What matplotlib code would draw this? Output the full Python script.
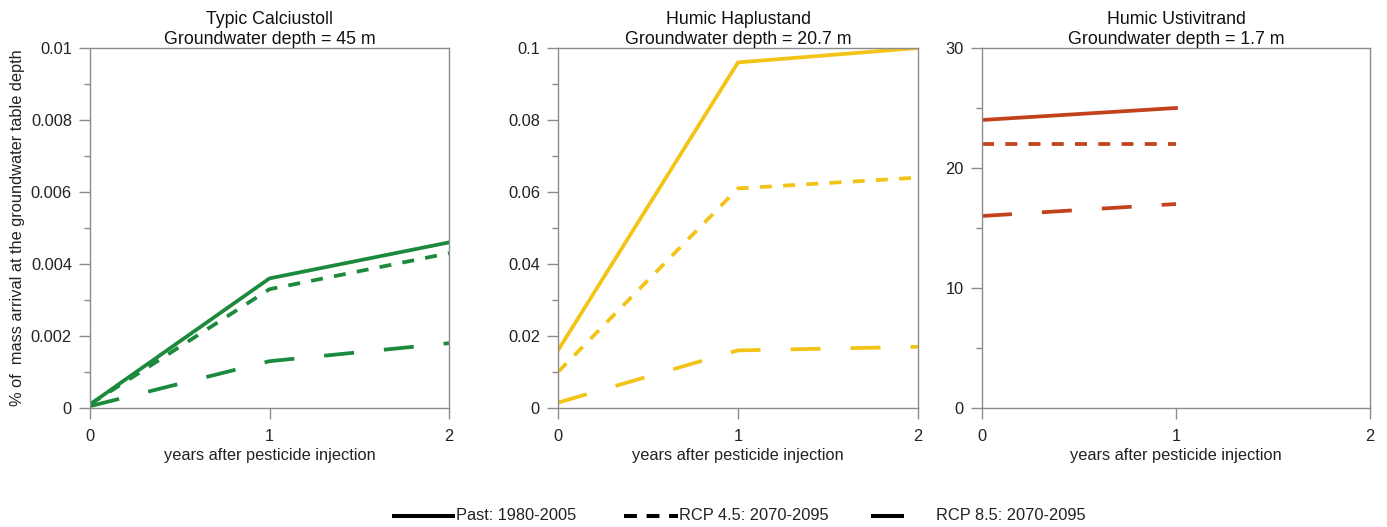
import matplotlib
matplotlib.use("Agg")
import matplotlib.pyplot as plt
from matplotlib.lines import Line2D
from matplotlib.ticker import MultipleLocator

plt.rcParams['font.family'] = ['Liberation Sans', 'DejaVu Sans']

years = [0, 1, 2]
years3 = [0, 1]

titles = ["Typic Calciustoll\nGroundwater depth = 45 m",
          "Humic Haplustand\nGroundwater depth = 20.7 m",
          "Humic Ustivitrand\nGroundwater depth = 1.7 m"]

calc_past = [0.0001, 0.0036, 0.0046]
calc_rcp45 = [0.0001, 0.0033, 0.0043]
calc_rcp85 = [0.00005, 0.0013, 0.0018]

hap_past = [0.016, 0.096, 0.100]
hap_rcp45 = [0.010, 0.061, 0.064]
hap_rcp85 = [0.0015, 0.016, 0.017]

ust_past = [24, 25]
ust_rcp45 = [22, 22]
ust_rcp85 = [16, 17]

colors = ["#1b8a3c", "#f2c417", "#c2421c"]
legend_labels = ["Past: 1980-2005", "RCP 4.5: 2070-2095", "RCP 8.5: 2070-2095"]

dash45 = (0, (3.2, 3.0))
dash85 = (0, (8, 8))

W, H = 1387, 527
fig = plt.figure(figsize=(W / 100, H / 100), dpi=100)

def ax_at(x0, x1, y0=48, y1=408):
    return fig.add_axes([x0 / W, 1 - y1 / H, (x1 - x0) / W, (y1 - y0) / H])

ax1 = ax_at(90, 449)
ax2 = ax_at(558, 918)
ax3 = ax_at(982, 1370)

lw = 2.7
ax1.plot(years, calc_past, color=colors[0], lw=lw, ls='-')
ax1.plot(years, calc_rcp45, color=colors[0], lw=lw, ls=dash45)
ax1.plot(years, calc_rcp85, color=colors[0], lw=lw, ls=dash85)
ax2.plot(years, hap_past, color=colors[1], lw=lw, ls='-')
ax2.plot(years, hap_rcp45, color=colors[1], lw=lw, ls=dash45)
ax2.plot(years, hap_rcp85, color=colors[1], lw=lw, ls=dash85)
ax3.plot(years3, ust_past, color=colors[2], lw=lw, ls='-')
ax3.plot(years3, ust_rcp45, color=colors[2], lw=lw, ls=dash45)
ax3.plot(years3, ust_rcp85, color=colors[2], lw=lw, ls=dash85)

ylims = [(0, 0.01), (0, 0.1), (0, 30)]
majors = [0.002, 0.02, 10]
minors = [0.001, 0.01, 5]

for ax, title, yl, mj, mn in zip([ax1, ax2, ax3], titles, ylims, majors, minors):
    ax.set_xlim(0, 2)
    ax.set_ylim(*yl)
    ax.set_xticks([0, 1, 2])
    ax.yaxis.set_major_locator(MultipleLocator(mj))
    ax.yaxis.set_minor_locator(MultipleLocator(mn))
    ax.yaxis.set_major_formatter(plt.FuncFormatter(lambda v, p: "0" if abs(v) < 1e-12 else f"{v:g}"))
    for s in ax.spines.values():
        s.set_color("#8c8c8c")
        s.set_linewidth(1.0)
    ax.tick_params(which='both', direction='out', color='#8c8c8c', labelcolor='#222222',
                   labelsize=11.8, width=1.0)
    ax.tick_params(which='major', length=8, pad=5)
    ax.tick_params(axis='x', which='major', pad=7)
    ax.tick_params(which='minor', length=4)
    ax.set_title(title, fontsize=12.8, color='#111111', pad=3, linespacing=1.2)
    ax.set_xlabel("years after pesticide injection", fontsize=11.8, color='#222222', labelpad=3)

ax1.set_ylabel("% of  mass arrival at the groundwater table depth", fontsize=11.8,
               color='#222222', labelpad=4)

# legend drawn in figure pixel coordinates
ly = 1 - 516 / H
def fx(px):
    return px / W

fig.add_artist(Line2D([fx(394), fx(453)], [ly, ly], color='black', lw=2.9,
                      transform=fig.transFigure))
fig.text(fx(456), ly, legend_labels[0], fontsize=11.8, color='#222222', va='center', ha='left')
fig.add_artist(Line2D([fx(624), fx(678)], [ly, ly], color='black', lw=2.9,
                      ls=(0, (3.2, 2.4)), transform=fig.transFigure))
fig.text(fx(679), ly, legend_labels[1], fontsize=11.8, color='#222222', va='center', ha='left')
fig.add_artist(Line2D([fx(873), fx(902)], [ly, ly], color='black', lw=2.9,
                      transform=fig.transFigure))
fig.text(fx(936), ly, legend_labels[2], fontsize=11.8, color='#222222', va='center', ha='left')

fig.savefig("out.png", dpi=100)
